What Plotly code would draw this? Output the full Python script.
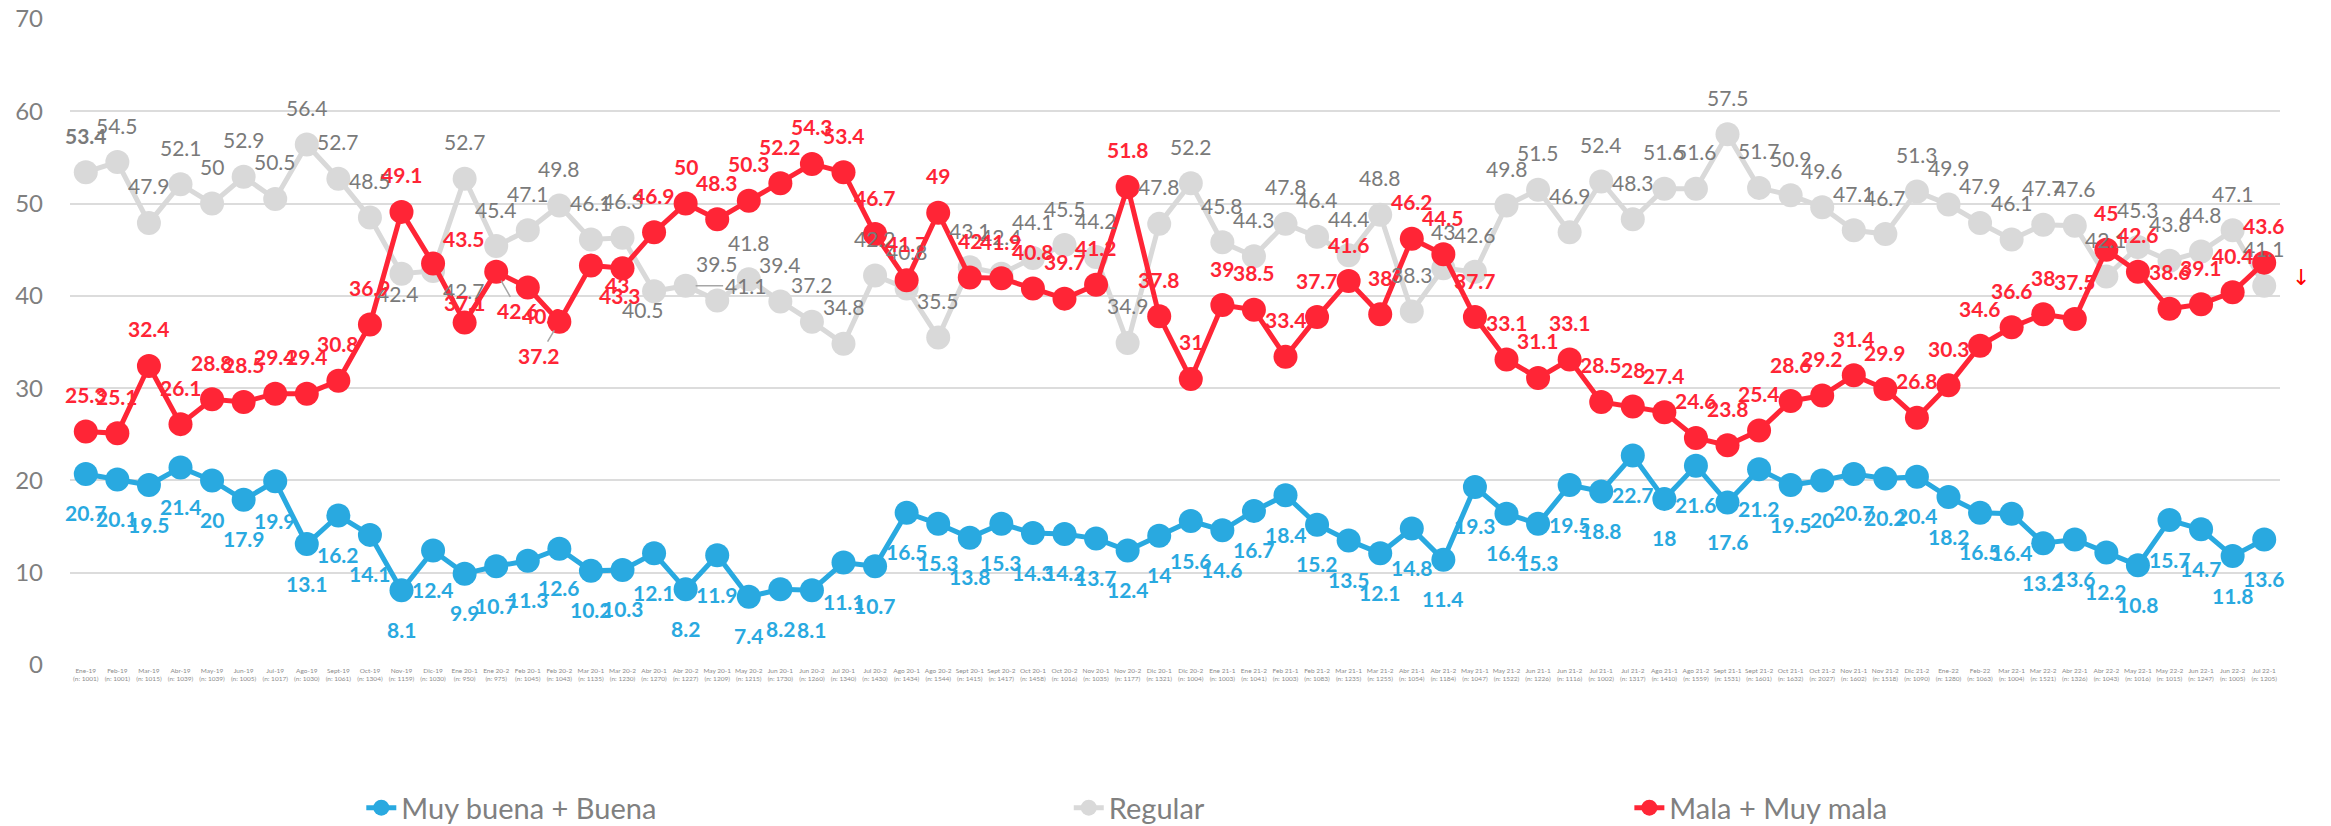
import plotly.graph_objects as go

# ---------------- data ----------------
periods = [
    "Ene-19", "Feb-19", "Mar-19", "Abr-19", "May-19", "Jun-19", "Jul-19", "Ago-19", "Sept-19", "Oct-19", "Nov-19", "Dic-19",
    "Ene 20-1", "Ene 20-2", "Feb 20-1", "Feb 20-2", "Mar 20-1", "Mar 20-2", "Abr 20-1", "Abr 20-2", "May 20-1", "May 20-2",
    "Jun 20-1", "Jun 20-2", "Jul 20-1", "Jul 20-2", "Ago 20-1", "Ago 20-2", "Sept 20-1", "Sept 20-2", "Oct 20-1", "Oct 20-2",
    "Nov 20-1", "Nov 20-2", "Dic 20-1", "Dic 20-2",
    "Ene 21-1", "Ene 21-2", "Feb 21-1", "Feb 21-2", "Mar 21-1", "Mar 21-2", "Abr 21-1", "Abr 21-2", "May 21-1", "May 21-2",
    "Jun 21-1", "Jun 21-2", "Jul 21-1", "Jul 21-2", "Ago 21-1", "Ago 21-2", "Sept 21-1", "Sept 21-2", "Oct 21-1", "Oct 21-2",
    "Nov 21-1", "Nov 21-2", "Dic 21-2",
    "Ene-22", "Feb-22", "Mar 22-1", "Mar 22-2", "Abr 22-1", "Abr 22-2", "May 22-1", "May 22-2", "Jun 22-1", "Jun 22-2", "Jul 22-1",
]
sample_n = [
    1001, 1001, 1015, 1039, 1039, 1005, 1017, 1030, 1061, 1304, 1159, 1030,
    950, 975, 1045, 1043, 1135, 1230, 1270, 1227, 1209, 1215, 1730, 1260, 1340, 1430, 1434, 1544, 1415, 1417, 1458, 1016,
    1035, 1177, 1321, 1004,
    1003, 1041, 1003, 1083, 1235, 1255, 1054, 1184, 1047, 1522, 1226, 1116, 1002, 1317, 1410, 1559, 1531, 1601, 1632, 2027,
    1602, 1518, 1090,
    1280, 1063, 1004, 1521, 1326, 1043, 1016, 1015, 1247, 1005, 1205,
]
muy_buena_buena = [
    20.7, 20.1, 19.5, 21.4, 20, 17.9, 19.9, 13.1, 16.2, 14.1,
    8.1, 12.4, 9.9, 10.7, 11.3, 12.6, 10.2, 10.3, 12.1, 8.2,
    11.9, 7.4, 8.2, 8.1, 11.1, 10.7, 16.5, 15.3, 13.8, 15.3,
    14.3, 14.2, 13.7, 12.4, 14, 15.6, 14.6, 16.7, 18.4, 15.2,
    13.5, 12.1, 14.8, 11.4, 19.3, 16.4, 15.3, 19.5, 18.8, 22.7,
    18, 21.6, 17.6, 21.2, 19.5, 20, 20.7, 20.2, 20.4, 18.2,
    16.5, 16.4, 13.2, 13.6, 12.2, 10.8, 15.7, 14.7, 11.8, 13.6,
]
regular = [
    53.4, 54.5, 47.9, 52.1, 50, 52.9, 50.5, 56.4, 52.7, 48.5,
    42.4, 42.7, 52.7, 45.4, 47.1, 49.8, 46.1, 46.3, 40.5, 41.1,
    39.5, 41.8, 39.4, 37.2, 34.8, 42.2, 40.8, 35.5, 43.1, 42.4,
    44.1, 45.5, 44.2, 34.9, 47.8, 52.2, 45.8, 44.3, 47.8, 46.4,
    44.4, 48.8, 38.3, 43, 42.6, 49.8, 51.5, 46.9, 52.4, 48.3,
    51.6, 51.6, 57.5, 51.7, 50.9, 49.6, 47.1, 46.7, 51.3, 49.9,
    47.9, 46.1, 47.7, 47.6, 42.1, 45.3, 43.8, 44.8, 47.1, 41.1,
]
mala_muy_mala = [
    25.3, 25.1, 32.4, 26.1, 28.8, 28.5, 29.4, 29.4, 30.8, 36.9,
    49.1, 43.5, 37.1, 42.6, 40.9, 37.2, 43.3, 43, 46.9, 50,
    48.3, 50.3, 52.2, 54.3, 53.4, 46.7, 41.7, 49, 42, 41.9,
    40.8, 39.7, 41.2, 51.8, 37.8, 31, 39, 38.5, 33.4, 37.7,
    41.6, 38, 46.2, 44.5, 37.7, 33.1, 31.1, 33.1, 28.5, 28,
    27.4, 24.6, 23.8, 25.4, 28.6, 29.2, 31.4, 29.9, 26.8, 30.3,
    34.6, 36.6, 38, 37.5, 45, 42.6, 38.6, 39.1, 40.4, 43.6,
]
series_names = ["Muy buena + Buena", "Regular", "Mala + Muy mala"]

# ---------------- styles ----------------
FONT = "Lato, 'Open Sans', sans-serif"
BLUE, GRAY, RED = "#29A9E0", "#D9D9D9", "#FF2536"
GRAY_TXT = "#7a7a7a"
LABEL_SIZE = 21

categories = [f"{p}<br>(n: {n})" for p, n in zip(periods, sample_n)]

# label offsets (px): default and per-point exceptions, (dx, dy) with dy>0 = up
default_offset = {"blue": (0, -39), "gray": (0, 37), "red": (0, 37)}
special_offsets = {
    "gray": {10: (-4, -20), 11: (31, -20), 18: (-11, -18), 19: (60, 0)},
    "red": {11: (31, 25), 12: (0, 20), 13: (22, -39), 14: (15, -28), 15: (-20, -34), 16: (29, -30), 17: (-6, -16)},
    "blue": {},
}
leader_lines = {"gray": {19}, "red": {13, 15}, "blue": set()}
bold_labels = {"blue": "all", "red": "all", "gray": {0}}

fig = go.Figure()
specs = [
    ("blue", series_names[0], muy_buena_buena, BLUE, BLUE, "legend"),
    ("gray", series_names[1], regular, GRAY, GRAY_TXT, "legend2"),
    ("red", series_names[2], mala_muy_mala, RED, RED, "legend3"),
]
for key, name, vals, col, txtcol, leg in specs:
    fig.add_trace(go.Scatter(
        x=categories, y=vals, name=name, mode="lines+markers",
        line=dict(color=col, width=5),
        marker=dict(color=col, size=24),
        legend=leg, hoverinfo="skip",
    ))

annotations = []
for key, name, vals, col, txtcol, leg in specs:
    for i, v in enumerate(vals):
        dx, dy = special_offsets[key].get(i, default_offset[key])
        txt = f"{v:g}"
        b = bold_labels[key]
        if b == "all" or i in b:
            txt = f"<b>{txt}</b>"
        ann = dict(x=categories[i], y=v, xref="x", yref="y", text=txt,
                   font=dict(family=FONT, size=LABEL_SIZE, color=txtcol))
        if i in leader_lines[key]:
            ann.update(showarrow=True, ax=dx, ay=-dy, arrowhead=0, arrowwidth=1.5,
                       arrowcolor="#a6a6a6", standoff=10)
        else:
            ann.update(showarrow=False, xshift=dx, yshift=dy)
        annotations.append(ann)

annotations.append(dict(x=1.0145, y=42, xref="paper", yref="y", text="↓", showarrow=False,
                        font=dict(family="DejaVu Sans", size=22, color="#FF0000")))

legend_common = dict(orientation="h", xref="container", yref="container", yanchor="middle",
                     y=0.022, bgcolor="rgba(0,0,0,0)", font=dict(family=FONT, size=29, color="#808080"),
                     itemsizing="trace")

fig.update_layout(
    width=2331, height=826,
    margin=dict(l=70, r=51, t=19, b=161, autoexpand=False),
    paper_bgcolor="white", plot_bgcolor="white",
    font=dict(family=FONT),
    annotations=annotations,
    showlegend=True,
    legend=dict(legend_common, x=0.155),
    legend2=dict(legend_common, x=0.4585),
    legend3=dict(legend_common, x=0.699),
    xaxis=dict(
        type="category", range=[-0.5, len(categories) - 0.5], autorange=False,
        tickangle=0, showgrid=False, zeroline=False, showline=False,
        tickfont=dict(family=FONT, size=6.5, color="#8c8c8c"), ticks="", automargin=False,
    ),
    yaxis=dict(
        range=[0, 70], autorange=False, dtick=10, showgrid=True, gridcolor="#dcdcdc", gridwidth=2,
        zeroline=False, showline=False, ticks="", automargin=False, ticklabeloverflow="allow",
        tickfont=dict(family=FONT, size=24, color="#7f7f7f"), ticklabelstandoff=26,
    ),
)

# remove the browser's default 8px body margin so the figure fills the window exactly
fig.write_html(
    "out.html",
    config={"displayModeBar": False},
    post_script="document.body.style.margin='0';document.body.style.overflow='hidden';",
)
